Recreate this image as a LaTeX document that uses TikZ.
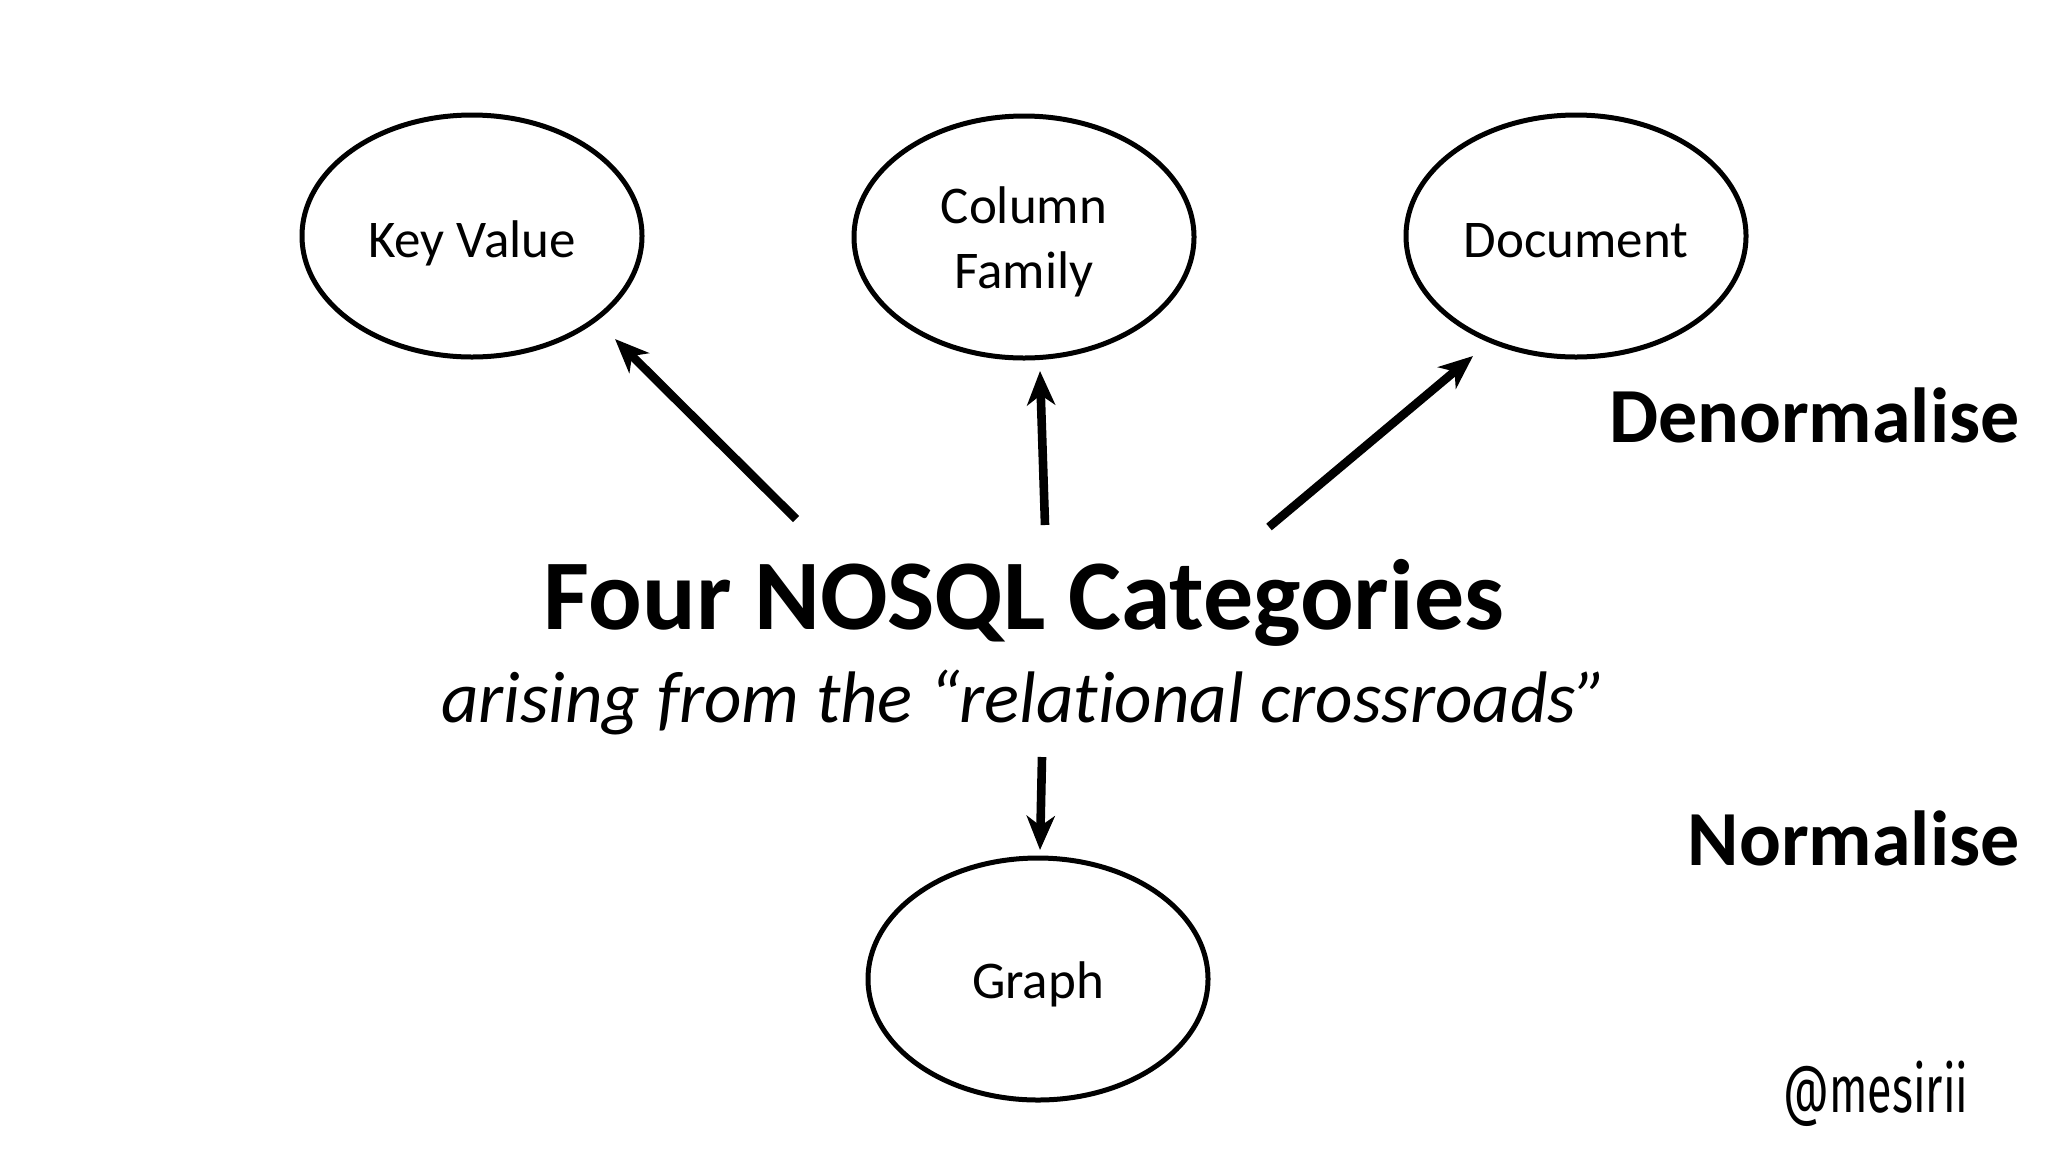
\documentclass[tikz,border=0pt]{standalone}
\usepackage{fontspec}
\setmainfont[Ligatures=NoCommon]{Carlito}
\newfontfamily\handlefont{Fira Sans}
\usetikzlibrary{shapes.geometric,arrows.meta}
\begin{document}
\begin{tikzpicture}[x=0.5pt,y=-0.5pt,
  oval/.style={ellipse,draw,line width=2.5pt,minimum width=170pt,minimum height=121pt,inner sep=0pt},
  lbl/.style={anchor=base,inner sep=0pt,font=\fontsize{26.5}{32}\selectfont},
  arr/.style={line width=4.3pt,-{Stealth[length=17pt,width=14pt,inset=5pt]}},
  side/.style={anchor=base east,inner sep=0pt,font=\fontsize{39}{46}\selectfont\bfseries}]
\fill[white] (0,0) rectangle (2048,1152);
\useasboundingbox (0,0) rectangle (2048,1152);
% ellipses
\node[oval] (kv) at (472,236) {};
\node[oval] (cf) at (1024,237) {};
\node[oval] (doc) at (1576,236) {};
\node[oval] (graph) at (1038,979) {};
% ellipse labels
\node[lbl] (kvt) at (472,257) {Key Value};
\node[lbl] (cft1) at (1024,223) {Column};
\node[lbl] (cft2) at (1024,288) {Family};
\node[lbl] (doct) at (1576,257) {Document};
\node[lbl] (grt) at (1038,998) {Graph};
% title
\node[anchor=base,inner sep=0pt,font=\fontsize{50}{60}\selectfont\bfseries] (title) at (1024,629) {Four NOSQL Categories};
\node[anchor=base,inner sep=0pt,font=\fontsize{36.5}{44}\selectfont\itshape] (sub) at (1024,722) {arising from the “rela\kern0pt tional crossroads”};
% side labels
\node[side] (den) at (2020,442) {Denormalise};
\node[side] (norm) at (2020,865) {Normalise};
\node[anchor=base west,inner sep=0pt,font=\handlefont\fontsize{33}{40}\selectfont] (handle) at (1783,1112) {\scalebox{0.68}[1]{@mesirii}};
% arrows
\coordinate (kvtail) at (796,519);
\coordinate (kvtip) at (615,339);
\coordinate (cftail) at (1045,525);
\coordinate (cftip) at (1040,371);
\coordinate (doctail) at (1269,527);
\coordinate (doctip) at (1473,356);
\coordinate (grtail) at (1042,757);
\coordinate (grtip) at (1040,850);
\draw[arr] (kvtail) -- (kvtip);
\draw[arr] (cftail) -- (cftip);
\draw[arr] (doctail) -- (doctip);
\draw[arr] (grtail) -- (grtip);
\end{tikzpicture}
\end{document}
